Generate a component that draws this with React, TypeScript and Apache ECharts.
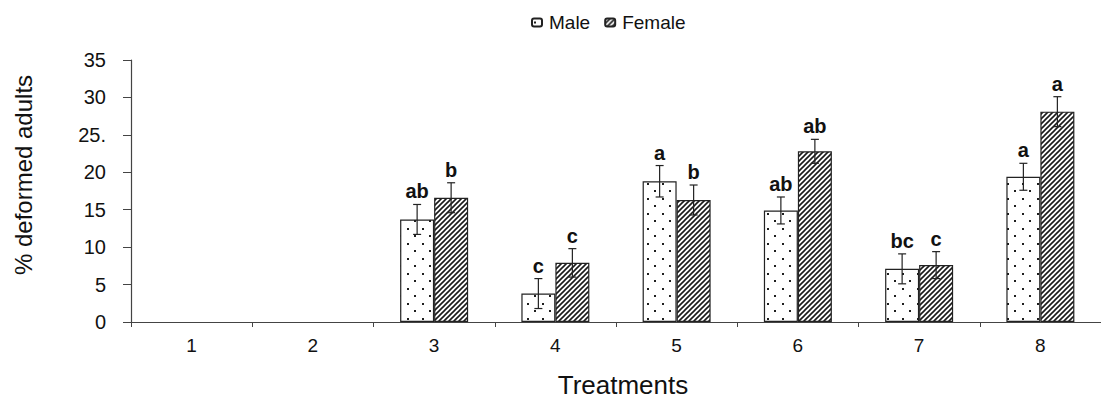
import React, { useEffect, useRef } from "react";
import * as echarts from "echarts";

const categories = ["1", "2", "3", "4", "5", "6", "7", "8"];
const maleValues = [0, 0, 13.7, 3.8, 18.8, 14.9, 7.1, 19.4];
const femaleValues = [0, 0, 16.6, 7.9, 16.3, 22.8, 7.6, 28.1];
const maleErrors = [0, 0, 2.0, 2.0, 2.1, 1.8, 2.0, 1.8];
const femaleErrors = [0, 0, 2.0, 1.9, 2.0, 1.6, 1.8, 2.0];
const maleLetters = ["", "", "ab", "c", "a", "ab", "bc", "a"];
const femaleLetters = ["", "", "b", "c", "b", "ab", "c", "a"];
const yTickLabels: Record<number, string> = { 0: "0", 5: "5", 10: "10", 15: "15", 20: "20", 25: "25.", 30: "30", 35: "35" };

const FONT = '"Liberation Sans", Arial, sans-serif';

function dotPattern(): HTMLCanvasElement {
  const s = 15;
  const c = document.createElement("canvas");
  c.width = s;
  c.height = s;
  const g = c.getContext("2d")!;
  g.fillStyle = "#ffffff";
  g.fillRect(0, 0, s, s);
  g.fillStyle = "#1f1f1f";
  g.fillRect(2, 3, 2, 2);
  g.fillRect(9, 10, 2, 2);
  return c;
}

function hatchPattern(): HTMLCanvasElement {
  const s = 5;
  const c = document.createElement("canvas");
  c.width = s;
  c.height = s;
  const g = c.getContext("2d")!;
  g.fillStyle = "#ffffff";
  g.fillRect(0, 0, s, s);
  g.strokeStyle = "#1a1a1a";
  g.lineWidth = 1.6;
  g.beginPath();
  g.moveTo(-1, s + 1);
  g.lineTo(s + 1, -1);
  g.moveTo(-1, 1);
  g.lineTo(1, -1);
  g.moveTo(s - 1, s + 1);
  g.lineTo(s + 1, s - 1);
  g.stroke();
  return c;
}

function barData(values: number[]) {
  return values.map((v) => (v === 0 ? null : v));
}

function errorData(values: number[], errs: number[]) {
  return values.map((v, i) => [i, v - errs[i], v + errs[i], v]);
}

function makeRenderItem(offset: number, letters: string[]) {
  return (params: any, api: any) => {
    const v = api.value(3);
    if (!v) return { type: "group", children: [] };
    const x = api.value(0);
    const top = api.coord([x, api.value(2)]);
    const bot = api.coord([x, api.value(1)]);
    const cx = top[0] + offset;
    const st = { stroke: "#222", lineWidth: 1.2 };
    return {
      type: "group",
      children: [
        { type: "line", shape: { x1: cx, y1: top[1], x2: cx, y2: bot[1] }, style: st },
        { type: "line", shape: { x1: cx - 4, y1: top[1], x2: cx + 4, y2: top[1] }, style: st },
        { type: "line", shape: { x1: cx - 4, y1: bot[1], x2: cx + 4, y2: bot[1] }, style: st },
        {
          type: "text",
          style: {
            text: letters[params.dataIndex],
            x: cx,
            y: top[1] - 3,
            align: "center",
            verticalAlign: "bottom",
            font: `bold 20px ${FONT}`,
            fill: "#111",
          },
        },
      ],
    };
  };
}

export default function App() {
  const ref = useRef<HTMLDivElement>(null);
  useEffect(() => {
    if (!ref.current) return;
    const chart = echarts.init(ref.current, null, { renderer: "svg" });
    const dots = dotPattern();
    const hatch = hatchPattern();
    const malePat = { image: dots, repeat: "repeat", imageWidth: 15, imageHeight: 15 };
    const femalePat = { image: hatch, repeat: "repeat", imageWidth: 5, imageHeight: 5 };
    chart.setOption({
      animation: false,
      backgroundColor: "#ffffff",
      textStyle: { fontFamily: FONT },
      legend: {
        data: ["Male", "Female"],
        left: 526,
        top: 8,
        itemWidth: 10,
        itemHeight: 8,
        itemGap: 14,
        textStyle: { fontSize: 19, color: "#111", fontFamily: FONT, padding: [0, 0, 0, 2] },
      },
      grid: { left: 131, top: 60, width: 975, height: 262 },
      xAxis: {
        type: "category",
        data: categories,
        axisLine: { lineStyle: { color: "#444", width: 1.2 } },
        axisTick: { show: true, length: 5, lineStyle: { color: "#444" } },
        axisLabel: { fontSize: 19, color: "#111", margin: 14, fontFamily: FONT },
      },
      yAxis: {
        type: "value",
        min: 0,
        max: 35,
        interval: 5,
        splitLine: { show: false },
        axisLine: { show: true, lineStyle: { color: "#444", width: 1.2 } },
        axisTick: { show: true, length: 8, lineStyle: { color: "#444" } },
        axisLabel: {
          fontSize: 20,
          color: "#111",
          margin: 25,
          padding: [8, 0, 0, 0],
          fontFamily: FONT,
          formatter: (v: number) => yTickLabels[v] ?? String(v),
        },
      },
      series: [
        {
          name: "Male",
          type: "bar",
          data: barData(maleValues),
          barWidth: 34,
          barGap: "0%",
          itemStyle: { color: malePat, borderColor: "#222", borderWidth: 1.2 },
        },
        {
          name: "Female",
          type: "bar",
          data: barData(femaleValues),
          barWidth: 34,
          barGap: "0%",
          itemStyle: { color: femalePat, borderColor: "#222", borderWidth: 1.2 },
        },
        {
          name: "maleErr",
          type: "custom",
          data: errorData(maleValues, maleErrors),
          renderItem: makeRenderItem(-17, maleLetters),
          z: 5,
        },
        {
          name: "femaleErr",
          type: "custom",
          data: errorData(femaleValues, femaleErrors),
          renderItem: makeRenderItem(17, femaleLetters),
          z: 5,
        },
      ],
      graphic: [
        {
          type: "text",
          x: 23,
          y: 175,
          rotation: Math.PI / 2,
          style: {
            text: "% deformed adults",
            align: "center",
            verticalAlign: "middle",
            font: `24px ${FONT}`,
            fill: "#111",
          },
        },
        {
          type: "text",
          x: 623,
          y: 385,
          style: {
            text: "Treatments",
            align: "center",
            verticalAlign: "middle",
            font: `26px ${FONT}`,
            fill: "#111",
          },
        },
      ],
    });
    return () => chart.dispose();
  }, []);
  return (
    <div
      ref={ref}
      style={{ position: "fixed", left: 0, top: 0, width: 1101, height: 403 }}
    />
  );
}
